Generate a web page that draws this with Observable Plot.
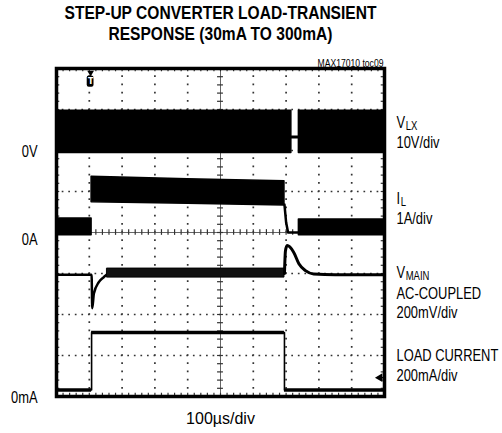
<!DOCTYPE html>
<html><head><meta charset="utf-8">
<script src="https://cdn.jsdelivr.net/npm/d3@7"></script>
<script src="https://cdn.jsdelivr.net/npm/@observablehq/plot@0.6"></script>
<style>
html,body{margin:0;padding:0;background:#fff;}
#chart svg{display:block;}
</style></head><body><div id="chart"></div>
<script>
// ---- text ----
const titleLines = ["STEP-UP CONVERTER LOAD-TRANSIENT", "RESPONSE (30mA TO 300mA)"];
const tocLabel = "MAX17010 toc09";
const timeLabel = "100\u00b5s/div";
const leftLabels = ["0V", "0A", "0mA"];
// ---- screen grid: 10 x 8 divisions ----
const xDivs = [0, 10];
const yDivs = [0, 8];

// ---- V_LX switching envelope (divisions) ----
const vlxT   = [0, 7.16, 7.39, 10];
const vlxSeg = ["a", "a", "b", "b"];
const vlxLo  = [5.94, 5.94, 5.94, 5.94];
const vlxHi  = [6.97, 6.97, 6.97, 6.97];
const vlxIdleT = [7.16, 7.39];
const vlxIdleV = [6.33, 6.33];

// ---- I_L envelope ----
const ilT   = [0, 1.07, 1.07, 4.0, 6.95, 7.39, 10];
const ilSeg = ["a", "a", "b", "b", "b", "c", "c"];
const ilLo  = [3.93, 3.93, 4.74, 4.70, 4.66, 3.93, 3.93];
const ilHi  = [4.34, 4.34, 5.36, 5.30, 5.25, 4.32, 4.32];
const ilFallT = [6.95, 7.0, 7.06, 7.39];
const ilFallV = [4.68, 4.25, 4.0, 4.0];

// ---- V_MAIN trace ----
const vmT = [0, 1.07, 1.09, 1.14, 1.29, 1.44, 1.65, 1.85];
const vmV = [2.97, 2.97, 2.15, 2.51, 2.79, 2.91, 3.03, 3.05];
const vmBandT  = [1.55, 6.95];
const vmBandLo = [2.90, 2.90];
const vmBandHi = [3.12, 3.12];
const vmRelT = [6.95, 6.98, 7.03, 7.23, 7.39, 7.59, 7.84, 8.5, 10];
const vmRelV = [3.00, 3.55, 3.68, 3.52, 3.24, 3.07, 2.99, 2.97, 2.97];

// ---- load current ----
const ldT = [0, 1.07, 1.07, 6.95, 6.95, 10];
const ldV = [0.16, 0.16, 1.56, 1.56, 0.16, 0.16];

// ---- scope markers ----
const triggerT = 1.04;
const groundMark = {t: 9.86, v: 0.46};

const TITLEFONT = "NarrowTitle, 'Liberation Sans', Arial, sans-serif";
const LABELFONT = "NarrowLabel, 'Liberation Sans', Arial, sans-serif";

const zip = (t, v, s) => t.map((d, i) => ({t: d, v: v[i], s: s ? s[i] : "a"}));
const band = (t, lo, hi, s) => t.map((d, i) => ({t: d, lo: lo[i], hi: hi[i], s: s ? s[i] : "a"}));
const ldFlat = [0, 2, 4].map(i => ({t1: ldT[i], t2: ldT[i + 1], v: ldV[i]}));

const fine = d3.range(0, 10.001, 0.2);
const fineY = d3.range(0, 8.001, 0.2);
const gridX = [1,2,3,4,6,7,8,9];
const gridY = [1,2,3,5,6,7];

const lbl = (s, y, dx, size, extra) => Plot.text([s], Object.assign({x: 10, y, dx, textAnchor: "start", text: d => d, fontFamily: LABELFONT, fontSize: size, fill: "#000"}, extra || {}));

const chart = Plot.plot({
  width: 502, height: 433,
  marginLeft: 56, marginRight: 118, marginTop: 68, marginBottom: 37,
  x: {domain: xDivs, axis: null},
  y: {domain: yDivs, axis: null},
  style: {background: "#fff", overflow: "visible"},
  marks: [
    // dotted graticule
    Plot.ruleX(gridX, {x: d => d, stroke: "#333", strokeWidth: 1.7, strokeDasharray: "1.7 6.5", strokeDashoffset: 0.85}),
    Plot.ruleY(gridY, {y: d => d, stroke: "#333", strokeWidth: 1.7, strokeDasharray: "1.7 4.86", strokeDashoffset: 0.85}),
    // center crosshair
    Plot.ruleX([5], {x: d => d, stroke: "#666", strokeWidth: 1}),
    Plot.ruleY([4], {y: d => d, stroke: "#666", strokeWidth: 1}),
    Plot.ruleX(fine, {x: d => d, y1: 3.93, y2: 4.07, stroke: "#333", strokeWidth: 1.2}),
    Plot.ruleY(fineY, {y: d => d, x1: 4.91, x2: 5.09, stroke: "#333", strokeWidth: 1.2}),
    // border ticks
    Plot.ruleX(fine, {x: d => d, y1: 0, y2: 0.08, stroke: "#333", strokeWidth: 1.2}),
    Plot.ruleX(fine, {x: d => d, y1: 7.92, y2: 8, stroke: "#333", strokeWidth: 1.2}),
    Plot.ruleY(fineY, {y: d => d, x1: 0, x2: 0.1, stroke: "#333", strokeWidth: 1.2}),
    Plot.ruleY(fineY, {y: d => d, x1: 9.9, x2: 10, stroke: "#333", strokeWidth: 1.2}),

    // V_LX
    Plot.areaY(band(vlxT, vlxLo, vlxHi, vlxSeg), {x: "t", y1: "lo", y2: "hi", z: "s", fill: "#000", stroke: "#000", strokeWidth: 1.5}),
    Plot.line(zip(vlxIdleT, vlxIdleV), {x: "t", y: "v", stroke: "#000", strokeWidth: 3}),
    // I_L
    Plot.areaY(band(ilT, ilLo, ilHi, ilSeg), {x: "t", y1: "lo", y2: "hi", z: "s", fill: "#000", stroke: "#000", strokeWidth: 1.5}),
    Plot.line(zip(ilFallT, ilFallV), {x: "t", y: "v", stroke: "#000", strokeWidth: 2.5}),
    // V_MAIN
    Plot.line(zip(vmT, vmV), {x: "t", y: "v", stroke: "#000", strokeWidth: 2.5, curve: "monotone-x"}),
    Plot.areaY(band(vmBandT, vmBandLo, vmBandHi), {x: "t", y1: "lo", y2: "hi", fill: "#111", stroke: "#000", strokeWidth: 1}),
    Plot.line(zip(vmRelT, vmRelV), {x: "t", y: "v", stroke: "#000", strokeWidth: 3, curve: "monotone-x"}),
    // load current
    Plot.line(zip(ldT, ldV), {x: "t", y: "v", stroke: "#000", strokeWidth: 1.6}),
    Plot.ruleY(ldFlat, {y: "v", x1: "t1", x2: "t2", stroke: "#000", strokeWidth: 3.5}),

    // frame
    Plot.frame({stroke: "#000", strokeWidth: 3.5}),

    // trigger marker
    Plot.rect([triggerT], {x1: d => d, x2: d => d, y1: 7.54, y2: 7.82, insetLeft: -3.4, insetRight: -3.4, rx: 2, fill: "#000"}),
    Plot.text([triggerT], {x: d => d, y: 7.68, text: () => "T", fill: "#fff", fontSize: 8, fontWeight: "bold", fontFamily: "DejaVu Sans, sans-serif"}),
    Plot.dot([triggerT], {x: d => d, y: 7.9, symbol: "triangle", rotate: 180, r: 2.5, fill: "#000"}),
    // ground marker
    Plot.dot([groundMark], {x: "t", y: "v", symbol: "triangle", rotate: -90, r: 3.2, fill: "#000"}),
    Plot.ruleY([groundMark], {y: "v", x1: "t", x2: 9.97, stroke: "#000", strokeWidth: 1.5}),

    // title and captions
    Plot.text([titleLines[0]], {frameAnchor: "top", lineAnchor: "middle", dy: -56, text: d => d, fontFamily: TITLEFONT, fontWeight: "bold", fontSize: 19, fill: "#000"}),
    Plot.text([titleLines[1]], {frameAnchor: "top", lineAnchor: "middle", dy: -35, text: d => d, fontFamily: TITLEFONT, fontWeight: "bold", fontSize: 19, fill: "#000"}),
    Plot.text([tocLabel], {frameAnchor: "top-right", lineAnchor: "middle", dy: -4.5, dx: -1, textAnchor: "end", text: d => d, fontFamily: TITLEFONT, fontSize: 10.5, fill: "#000"}),
    Plot.text([timeLabel], {frameAnchor: "bottom", lineAnchor: "middle", dy: 22, text: d => d, fontFamily: "'Liberation Sans', Arial, sans-serif", fontSize: 16, fill: "#000"}),

    // left reference labels
    Plot.text([leftLabels[0]], {x: 0, y: 5.98, dx: -19, textAnchor: "end", text: d => d, fontFamily: LABELFONT, fontSize: 17, fill: "#000"}),
    Plot.text([leftLabels[1]], {x: 0, y: 3.83, dx: -19, textAnchor: "end", text: d => d, fontFamily: LABELFONT, fontSize: 17, fill: "#000"}),
    Plot.text([leftLabels[2]], {x: 0, y: -0.02, dx: -19, textAnchor: "end", text: d => d, fontFamily: LABELFONT, fontSize: 17, fill: "#000"}),

    // right channel labels
    lbl("V", 6.68, 12, 17),
    lbl("LX", 6.68, 21.2, 12.5, {dy: 3.5}),
    lbl("10V/div", 6.20, 12, 17),
    lbl("I", 4.83, 12, 17),
    lbl("L", 4.83, 16.3, 12.5, {dy: 3.5}),
    lbl("1A/div", 4.34, 12, 17),
    lbl("V", 3.02, 12, 17),
    lbl("MAIN", 3.02, 21.2, 12.5, {dy: 3}),
    lbl("AC-COUPLED", 2.51, 12, 17),
    lbl("200mV/div", 2.05, 12, 17),
    lbl("LOAD CURRENT", 1.0, 12, 17),
    lbl("200mA/div", 0.51, 12, 17)
  ]
});
// condense the Helvetica-Condensed-style captions horizontally
function condense(prefix, k) {
  d3.select(chart).selectAll(`g[font-family^="${prefix}"] text`).each(function () {
    const el = d3.select(this);
    const tr = el.attr("transform");
    if (tr) el.attr("transform", tr + ` scale(${k},1)`);
    else {
      const x = +el.attr("x") || 0, y = +el.attr("y") || 0;
      el.attr("x", null).attr("y", null).attr("transform", `translate(${x},${y}) scale(${k},1)`);
    }
  });
}
condense("NarrowTitle", 0.82);
condense("NarrowLabel", 0.76);
document.getElementById("chart").append(chart);
</script>
</body></html>
